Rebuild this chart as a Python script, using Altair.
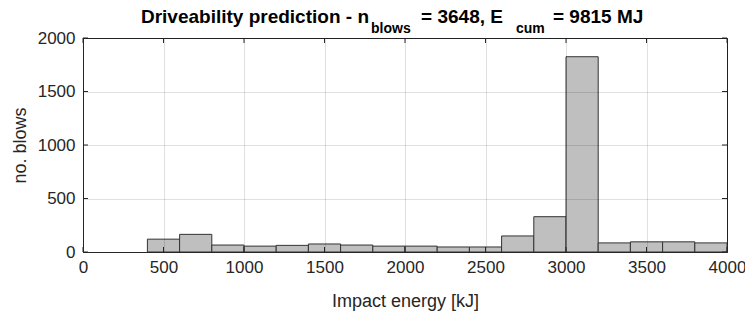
import altair as alt
import pandas as pd

# histogram bins (kJ) and counts
bin_start = [400, 600, 800, 1000, 1200, 1400, 1600, 1800, 2000, 2200, 2400, 2600, 2800, 3000, 3200, 3400, 3600, 3800]
bin_end = [600, 800, 1000, 1200, 1400, 1600, 1800, 2000, 2200, 2400, 2600, 2800, 3000, 3200, 3400, 3600, 3800, 4000]
counts = [120, 165, 65, 55, 62, 75, 65, 55, 55, 47, 47, 150, 330, 1825, 85, 95, 95, 85]

x_ticks = [0, 500, 1000, 1500, 2000, 2500, 3000, 3500, 4000]
y_ticks = [0, 500, 1000, 1500, 2000]

W, H = 644, 214
FONT = "Liberation Sans, Arial, Helvetica"
AX = "#262626"

df = pd.DataFrame({"start": bin_start, "end": bin_end, "count": counts})
xs = alt.Scale(domain=[0, 4000], nice=False, zero=False)
ys = alt.Scale(domain=[0, 2000], nice=False)

bars = alt.Chart(df).mark_bar(
    fill="#bfbfbf", stroke="#333333", strokeWidth=1, opacity=1
).encode(
    x=alt.X("start:Q", scale=xs,
            axis=alt.Axis(values=x_ticks, format="d", title="Impact energy [kJ]", grid=True,
                          gridColor="#000000", gridOpacity=0.12, tickSize=0,
                          labelPadding=7, titlePadding=17, zindex=1,
                          domainColor=AX, labelFont=FONT, labelFontSize=17,
                          labelColor=AX, titleFont=FONT, titleFontSize=18,
                          titleFontWeight="normal", titleColor=AX, labelFlush=False)),
    x2="end:Q",
    y=alt.Y("count:Q", scale=ys,
            axis=alt.Axis(values=y_ticks, format="d", title="no. blows", grid=True,
                          gridColor="#000000", gridOpacity=0.12, tickSize=0,
                          labelPadding=8, titlePadding=8, zindex=1,
                          domainColor=AX, labelFont=FONT, labelFontSize=17,
                          labelColor=AX, titleFont=FONT, titleFontSize=18,
                          titleFontWeight="normal", titleColor=AX)),
    y2=alt.datum(0),
)

xt = pd.DataFrame({"v": x_ticks})
yt = pd.DataFrame({"v": y_ticks})
tick_b = alt.Chart(xt).mark_rule(color=AX, strokeWidth=1).encode(
    x=alt.X("v:Q", scale=xs), y=alt.value(H), y2=alt.value(H - 5))
tick_t = alt.Chart(xt).mark_rule(color=AX, strokeWidth=1).encode(
    x=alt.X("v:Q", scale=xs), y=alt.value(0), y2=alt.value(5))
tick_l = alt.Chart(yt).mark_rule(color=AX, strokeWidth=1).encode(
    y=alt.Y("v:Q", scale=ys), x=alt.value(0), x2=alt.value(5))
tick_r = alt.Chart(yt).mark_rule(color=AX, strokeWidth=1).encode(
    y=alt.Y("v:Q", scale=ys), x=alt.value(W), x2=alt.value(W - 5))

# title with subscripts
title_parts = ["Driveability prediction - n", "blows", "= 3648, E", "cum", "= 9815 MJ"]
title_x = [286, 288, 379, 433, 470]
title_align = ["right", "left", "center", "left", "left"]
title_y = [-15, -5, -15, -5, -15]
title_size = [19, 14, 19, 14, 19]
tdf = pd.DataFrame({"t": title_parts})
title_layers = []
for i, t in enumerate(title_parts):
    title_layers.append(
        alt.Chart(tdf.iloc[[i]]).mark_text(
            align=title_align[i], baseline="alphabetic", font=FONT,
            fontWeight="bold", fontSize=title_size[i], color="#000000"
        ).encode(text="t:N", x=alt.value(title_x[i]), y=alt.value(title_y[i]))
    )

chart = alt.layer(bars, tick_b, tick_t, tick_l, tick_r, *title_layers).properties(
    width=W, height=H,
    autosize=alt.AutoSizeParams(type="none"),
    padding={"left": 75, "top": 30, "right": 18, "bottom": 64},
).configure_view(stroke=AX, strokeWidth=1)

chart.save("out.html", embed_options={"renderer": "svg", "actions": False})
